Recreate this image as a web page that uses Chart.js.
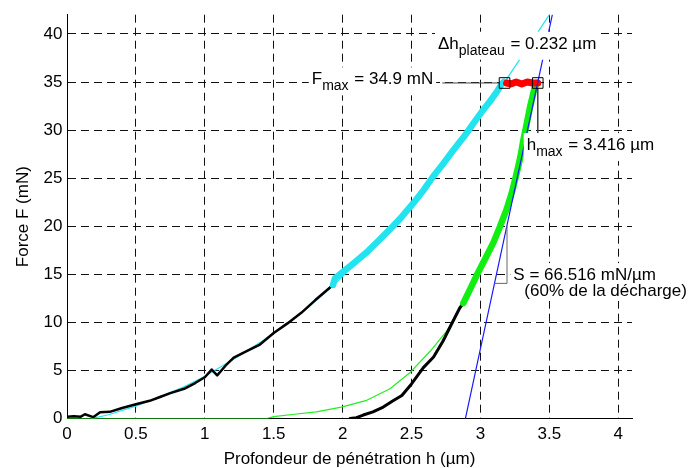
<!DOCTYPE html>
<html>
<head>
<meta charset="utf-8">
<script src="https://cdn.jsdelivr.net/npm/chart.js@4.4.1/dist/chart.umd.min.js"></script>
<style>
  html, body { margin: 0; padding: 0; background: #fff; }
  canvas { display: block; }
</style>
</head>
<body>
<canvas id="chart" width="691" height="468"></canvas>
<script>
// values (h in µm, F in mN)
const xTicks = [0, 0.5, 1, 1.5, 2, 2.5, 3, 3.5, 4];
const yTicks = [0, 5, 10, 15, 20, 25, 30, 35, 40];

// raw loading curve (black)
const loadRawH = [0, 0.05, 0.1, 0.13, 0.19, 0.24, 0.31, 0.4, 0.5, 0.6, 0.675, 0.75, 0.85, 0.93, 1.0, 1.05, 1.09, 1.15, 1.21, 1.3, 1.4, 1.5, 1.6, 1.7, 1.8, 1.93];
const loadRawF = [0.2, 0.25, 0.2, 0.45, 0.15, 0.65, 0.7, 1.1, 1.5, 1.85, 2.25, 2.65, 3.1, 3.7, 4.3, 5.1, 4.5, 5.5, 6.35, 7.0, 7.7, 8.9, 9.9, 11.0, 12.3, 13.9];

// loading fit (thin cyan)
const loadFitH = [0.18, 0.3, 0.5, 0.675, 0.85, 1.0, 1.2, 1.4, 1.5, 1.727, 1.93, 2.175, 2.513, 2.803, 3.07, 3.19, 3.26, 3.35, 3.5];
const loadFitF = [0, 0.4, 1.3, 2.3, 3.3, 4.4, 6.1, 7.9, 8.9, 11.3, 13.8, 17.3, 22.4, 27.9, 33.0, 35.3, 36.8, 38.7, 42.0];

// fitted part of loading (thick cyan)
const loadSelH = [1.93, 1.945, 2.05, 2.175, 2.26, 2.344, 2.43, 2.513, 2.59, 2.658, 2.73, 2.803, 2.88, 2.949, 3.01, 3.07, 3.12, 3.154, 3.17];
const loadSelF = [13.9, 14.6, 15.8, 17.3, 18.5, 19.7, 21.0, 22.4, 23.8, 25.2, 26.5, 27.9, 29.3, 30.7, 31.9, 33.0, 34.0, 34.8, 35.0];

// holding plateau (red)
const plateauH = [3.19, 3.22, 3.26, 3.30, 3.34, 3.38, 3.416];
const plateauF = [34.9, 34.8, 35.0, 34.8, 35.0, 34.9, 34.9];

// raw unloading curve (black)
const unloadRawH = [2.054, 2.1, 2.15, 2.22, 2.295, 2.36, 2.43, 2.5, 2.586, 2.66, 2.73, 2.8, 2.85, 2.876];
const unloadRawF = [0, 0.1, 0.37, 0.7, 1.2, 1.8, 2.4, 3.6, 5.3, 6.4, 8.1, 10.1, 11.5, 12.0];

// unloading fit (thin green)
const unloadFitH = [0, 1.45, 1.5, 1.65, 1.81, 1.99, 2.175, 2.344, 2.49, 2.635, 2.755, 2.852, 2.93, 3.03, 3.14, 3.23, 3.311, 3.36, 3.416];
const unloadFitF = [0, 0, 0.2, 0.45, 0.7, 1.2, 1.9, 3.1, 4.8, 7.0, 9.1, 11.5, 13.6, 16.5, 19.9, 23.6, 28.9, 32.4, 34.9];

// fitted 60% of unloading (thick green)
const unloadSelH = [2.876, 2.93, 2.973, 3.03, 3.094, 3.14, 3.191, 3.23, 3.263, 3.29, 3.311, 3.335, 3.36, 3.38, 3.396, 3.416];
const unloadSelF = [12.0, 13.6, 14.9, 16.5, 18.3, 19.9, 21.8, 23.6, 25.5, 27.2, 28.9, 30.6, 32.4, 33.6, 34.6, 34.9];

// contact stiffness tangent (blue), S = 66.516 mN/µm
const tangentH = [2.891, 3.522];
const tangentF = [0, 42];

// markers at start / end of the plateau
const markH = [3.175, 3.416];
const markF = [34.9, 34.9];

// leader lines of the labels
const fmaxLeadH = [2.726, 3.135];
const fmaxLeadF = [34.9, 34.9];
const hmaxLeadH = [3.416, 3.416];
const hmaxLeadF = [34.4, 29.6];
const slopeH = [3.102, 3.193, 3.193];
const slopeF = [14.06, 14.06, 20.06];

const pts = (hs, fs) => hs.map((h, i) => ({x: h, y: fs[i]}));

const FONT = "'Liberation Sans', Arial, Helvetica, sans-serif";

// text labels: anchor in data units, then pieces (sub = subscript)
const labels = [
  {h: 2.692, f: 38.46, parts: [["Δh"], ["plateau", true], [" = 0.232 µm"]]},
  {h: 1.776, f: 34.76, parts: [["F"], ["max", true], [" = 34.9 mN"]]},
  {h: 3.336, f: 27.92, parts: [["h"], ["max", true], [" = 3.416 µm"]]},
  {h: 3.239, f: 14.4, parts: [["S = 66.516 mN/µm"]]},
  {h: 3.319, f: 12.75, parts: [["(60% de la décharge)"]]}
];

const labelPlugin = {
  id: 'labels',
  afterDatasetsDraw(chart) {
    const ctx = chart.ctx;
    const xs = chart.scales.x, ys = chart.scales.y;
    ctx.save();
    ctx.textBaseline = 'alphabetic';
    ctx.textAlign = 'left';
    // white boxes behind the text first
    labels.forEach(l => {
      const x0 = xs.getPixelForValue(l.h);
      const y = ys.getPixelForValue(l.f);
      let w = 0, hasSub = false;
      l.parts.forEach(([t, sub]) => {
        ctx.font = (sub ? '14px ' : '17px ') + FONT;
        w += ctx.measureText(t).width + (sub ? 1 : 0);
        if (sub) hasSub = true;
      });
      ctx.fillStyle = '#fff';
      ctx.fillRect(x0 - 3, y - 17, w + 6, (hasSub ? 28 : 22));
    });
    ctx.fillStyle = '#000';
    labels.forEach(l => {
      let x = xs.getPixelForValue(l.h);
      const y = ys.getPixelForValue(l.f);
      l.parts.forEach(([t, sub]) => {
        ctx.font = (sub ? '14px ' : '17px ') + FONT;
        ctx.fillText(t, x, sub ? y + 6 : y);
        x += ctx.measureText(t).width + (sub ? 1 : 0);
      });
    });
    ctx.restore();
  }
};

const line = (data, color, width, order) => ({
  data, order,
  borderColor: color,
  borderWidth: width,
  showLine: true,
  pointRadius: 0,
  tension: 0,
  borderCapStyle: 'round',
  borderJoinStyle: 'round',
  fill: false
});

new Chart(document.getElementById('chart'), {
  type: 'scatter',
  data: {
    datasets: [
      {
        data: pts(markH, markF), order: 0,
        pointStyle: 'rect', pointRadius: 7.5,
        borderColor: '#000', borderWidth: 1,
        backgroundColor: 'rgba(0,0,0,0)', showLine: false
      },
      line(pts(fmaxLeadH, fmaxLeadF), '#444', 1, 1),
      line(pts(hmaxLeadH, hmaxLeadF), '#444', 1, 1),
      line(pts(slopeH, slopeF), '#666', 1, 1),
      line(pts(tangentH, tangentF), '#1a1aff', 1.2, 2),
      line(pts(plateauH, plateauF), '#f00', 7, 3),
      line(pts(unloadSelH, unloadSelF), '#11ee11', 6.5, 4),
      line(pts(unloadRawH, unloadRawF), '#000', 3, 5),
      line(pts(unloadFitH, unloadFitF), '#22ee22', 1.2, 6),
      line(pts(loadSelH, loadSelF), '#22e4f0', 6.5, 7),
      line(pts(loadRawH, loadRawF), '#000', 2.5, 8),
      line(pts(loadFitH, loadFitF), '#22e4f0', 1.2, 9)
    ]
  },
  options: {
    responsive: false,
    animation: false,
    layout: {padding: {top: 10, right: 59, left: 0, bottom: 0}},
    plugins: {legend: {display: false}, tooltip: {enabled: false}},
    scales: {
      x: {
        type: 'linear', min: 0, max: 4.1,
        afterBuildTicks: s => { s.ticks = xTicks.map(v => ({value: v})); },
        afterFit: s => { s.height = 49.4; },
        ticks: {color: '#000', padding: 6, font: {family: FONT, size: 17}, callback: v => String(v)},
        grid: {color: '#111', lineWidth: 1, drawTicks: false},
        border: {display: true, color: '#000', width: 1, dash: [8, 5]},
        title: {
          display: true, text: 'Profondeur de pénétration h (µm)', color: '#000',
          font: {family: FONT, size: 17, lineHeight: 1}, padding: {top: 0, bottom: 0}
        }
      },
      y: {
        type: 'linear', min: 0, max: 42,
        afterBuildTicks: s => { s.ticks = yTicks.map(v => ({value: v})); },
        afterFit: s => { s.width = 67; },
        ticks: {color: '#000', padding: 4.5, font: {family: FONT, size: 17}, callback: v => String(v)},
        grid: {color: '#111', lineWidth: 1, drawTicks: false},
        border: {display: true, color: '#000', width: 1, dash: [8, 5]},
        title: {
          display: true, text: 'Force F (mN)', color: '#000',
          font: {family: FONT, size: 17, lineHeight: 1}, padding: {top: 14.5, bottom: 0}
        }
      }
    }
  },
  plugins: [labelPlugin]
});
</script>
</body>
</html>
